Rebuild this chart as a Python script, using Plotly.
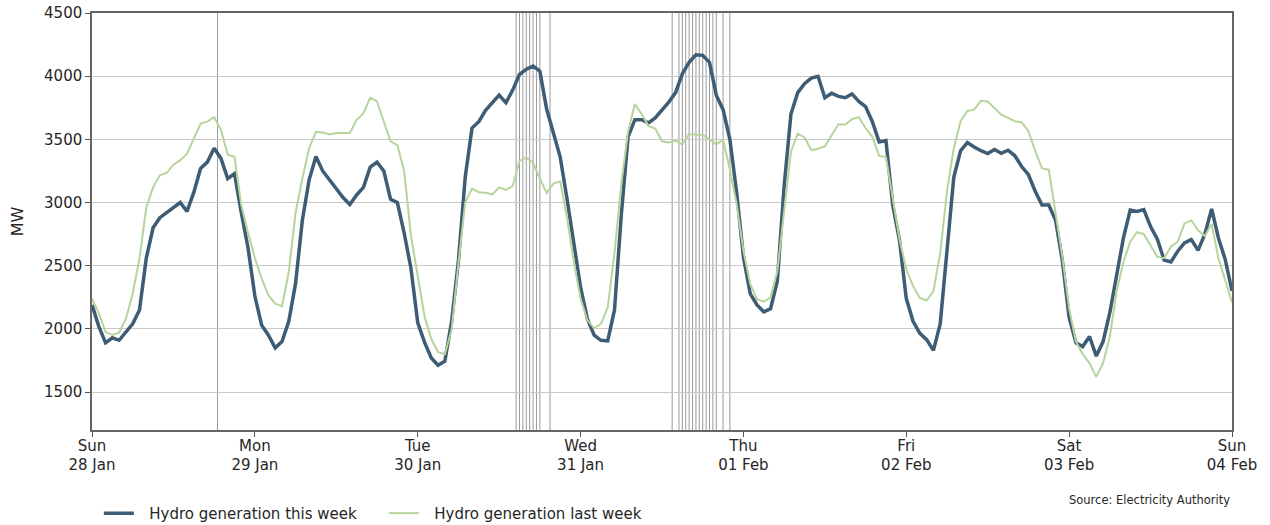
import pandas as pd
import plotly.graph_objects as go

# Hourly timestamps for the week (Sun 28 Jan 00:00 to Sun 04 Feb 00:00)
times = pd.date_range("2024-01-28 00:00", "2024-02-04 00:00", freq="h")

# Hydro generation this week (MW), hourly
hydro_this_week = [
    2190, 2020, 1890, 1930, 1910, 1975, 2040, 2150, 2560, 2800, 2880, 2920,
    2960, 3000, 2930, 3080, 3270, 3320, 3430, 3350, 3190, 3230, 2920, 2640,
    2260, 2030, 1950, 1850, 1900, 2060, 2360, 2860, 3180, 3365, 3250, 3180,
    3100, 3040, 2985, 3060, 3120, 3280, 3320, 3250, 3025, 3000, 2760, 2480,
    2050, 1895, 1770, 1712, 1745, 2060, 2540, 3200, 3590, 3640, 3730, 3790,
    3850, 3790, 3890, 4015, 4055, 4080, 4040, 3740, 3560, 3360, 3030, 2660,
    2330, 2080, 1950, 1910, 1905, 2150, 2900, 3520, 3656, 3655, 3630, 3670,
    3730, 3795, 3870, 4020, 4110, 4170, 4165, 4110, 3850, 3735, 3500, 3080,
    2570, 2280, 2190, 2135, 2160, 2380, 3130, 3700, 3870, 3940, 3985, 3999,
    3830, 3865, 3840, 3830, 3860, 3800, 3760, 3640, 3480, 3490, 2980, 2700,
    2240, 2060, 1965, 1915, 1830, 2040, 2620, 3200, 3410, 3475, 3440, 3410,
    3388, 3420, 3390, 3414, 3370, 3285, 3220, 3090, 2980, 2980, 2860, 2540,
    2090, 1890, 1860, 1940, 1785, 1900, 2130, 2430, 2720, 2940, 2930, 2944,
    2810, 2710, 2545, 2530, 2615, 2680, 2707, 2622, 2750, 2950, 2720, 2550,
    2300,
]

# Hydro generation last week (MW), hourly
hydro_last_week = [
    2240, 2125, 1975, 1952, 1970, 2080, 2280, 2560, 2960, 3120, 3215, 3235,
    3300, 3335, 3385, 3510, 3625, 3640, 3675, 3575, 3380, 3360, 2980, 2760,
    2560, 2400, 2265, 2200, 2180, 2450, 2920, 3190, 3430, 3560, 3555, 3538,
    3550, 3550, 3550, 3655, 3705, 3830, 3800, 3640, 3485, 3455, 3250, 2740,
    2420, 2100, 1920, 1816, 1800, 1995, 2520, 3000, 3110, 3082, 3078, 3065,
    3120, 3100, 3130, 3330, 3355, 3315, 3190, 3076, 3150, 3168, 2880, 2530,
    2240, 2070, 2005, 2040, 2170, 2600, 3150, 3560, 3780, 3700, 3607, 3585,
    3485, 3475, 3490, 3460, 3540, 3535, 3535, 3500, 3460, 3498, 3260, 2990,
    2620, 2355, 2235, 2215, 2250, 2460, 2950, 3400, 3545, 3515, 3415, 3425,
    3445, 3535, 3620, 3617, 3660, 3675, 3590, 3520, 3370, 3360, 3030, 2710,
    2470, 2340, 2245, 2225, 2300, 2600, 3090, 3430, 3643, 3725, 3735, 3805,
    3800, 3750, 3696, 3670, 3643, 3635, 3565, 3410, 3270, 3260, 2900, 2570,
    2160, 1900, 1800, 1730, 1620, 1730, 1940, 2300, 2530, 2690, 2765, 2750,
    2660, 2570, 2560, 2650, 2690, 2835, 2860, 2780, 2735, 2830, 2560, 2390,
    2210,
]

# Marked trading periods
event_times = [
    "2024-01-28 18:30",
    "2024-01-30 14:30", "2024-01-30 15:00", "2024-01-30 15:30", "2024-01-30 16:00",
    "2024-01-30 16:30", "2024-01-30 17:00", "2024-01-30 17:30", "2024-01-30 18:00",
    "2024-01-30 19:30",
    "2024-01-31 13:30", "2024-01-31 14:30", "2024-01-31 15:00", "2024-01-31 15:30",
    "2024-01-31 16:00", "2024-01-31 16:30", "2024-01-31 17:00", "2024-01-31 17:30",
    "2024-01-31 18:00", "2024-01-31 18:30", "2024-01-31 19:00", "2024-01-31 19:30",
    "2024-01-31 20:00", "2024-01-31 21:00", "2024-01-31 22:00",
]

# Day ticks along the x axis
tick_dates = ["2024-01-28", "2024-01-29", "2024-01-30", "2024-01-31",
              "2024-02-01", "2024-02-02", "2024-02-03", "2024-02-04"]
tick_labels = ["Sun<br>28 Jan", "Mon<br>29 Jan", "Tue<br>30 Jan", "Wed<br>31 Jan",
               "Thu<br>01 Feb", "Fri<br>02 Feb", "Sat<br>03 Feb", "Sun<br>04 Feb"]
y_ticks = [1500, 2000, 2500, 3000, 3500, 4000, 4500]

FONT = "DejaVu Sans"
TEXT = "#262626"
GAP = "\u2002\u2009"  # extra room between legend swatch and label

fig = go.Figure()

fig.add_trace(go.Scatter(
    x=times, y=hydro_this_week, mode="lines",
    name=GAP + "Hydro generation this week",
    line=dict(color="#3e5c74", width=3.5),
))
fig.add_trace(go.Scatter(
    x=times, y=hydro_last_week, mode="lines",
    name=GAP + "Hydro generation last week",
    line=dict(color="#b7d49c", width=2),
))

for t in event_times:
    fig.add_shape(type="line", xref="x", yref="paper", x0=t, x1=t, y0=0, y1=1,
                  line=dict(color="#9a9a9a", width=1), layer="below")

fig.add_annotation(
    text="Source: Electricity Authority", xref="paper", yref="paper",
    x=1.0, y=-0.168, xanchor="right", yanchor="middle", showarrow=False,
    font=dict(family=FONT, size=11.5, color=TEXT),
)

fig.update_layout(
    width=1270, height=525,
    margin=dict(l=92, r=38, t=13, b=95, autoexpand=False),
    plot_bgcolor="white", paper_bgcolor="white",
    font=dict(family=FONT, size=15, color=TEXT),
    showlegend=True,
    legend=dict(orientation="h", x=0.006, y=-0.2, xanchor="left", yanchor="middle",
                entrywidth=240, entrywidthmode="pixels",
                font=dict(family=FONT, size=15, color=TEXT)),
    xaxis=dict(
        type="date", range=["2024-01-28", "2024-02-04"],
        tickvals=tick_dates, ticktext=tick_labels,
        ticks="outside", ticklen=5, tickcolor="#555555", ticklabelstandoff=-4,
        showgrid=False, zeroline=False, automargin=False,
        showline=True, mirror=True, linecolor="#666666", linewidth=1.5,
    ),
    yaxis=dict(
        range=[1200, 4500], tickvals=y_ticks,
        ticks="outside", ticklen=5, tickcolor="#555555",
        showgrid=True, gridcolor="#c8c8c8", gridwidth=1, zeroline=False,
        automargin=False,
        showline=True, mirror=True, linecolor="#666666", linewidth=1.5,
        title=dict(text="MW", standoff=16, font=dict(family=FONT, size=16, color=TEXT)),
    ),
)

fig.write_html("out.html")
